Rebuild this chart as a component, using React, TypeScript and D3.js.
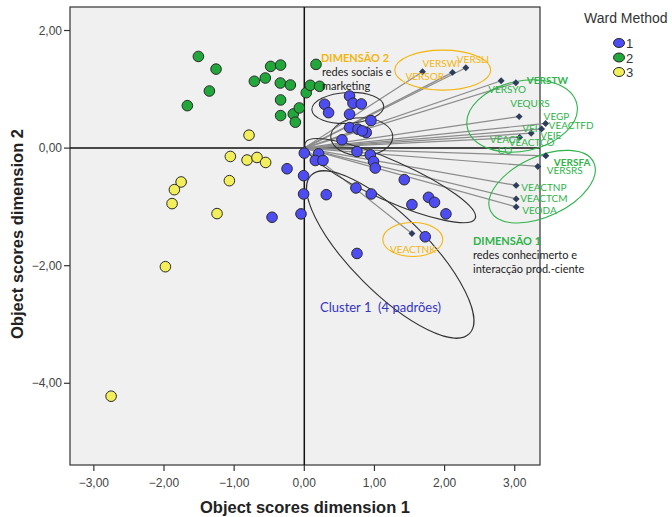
import React from 'react';
import * as d3 from 'd3';

// object scores per Ward cluster [dim1, dim2]
const cluster1: [number, number][] = [
  [0.645, 0.886], [0.289, 0.746], [0.694, 0.763], [0.812, 0.751], [0.346, 0.603],
  [0.645, 0.576], [0.95, 0.468], [0.645, 0.349], [0.765, 0.322], [0.883, 0.264],
  [0.826, 0.293], [0.537, 0.141], [0.0, -0.085], [0.204, -0.097], [0.751, -0.058],
  [0.94, -0.114], [0.157, -0.21], [0.266, -0.21], [0.987, -0.227], [1.011, -0.339],
  [-0.246, -0.351], [-0.01, -0.469], [1.425, -0.537], [0.736, -0.678], [-0.01, -0.78],
  [0.313, -0.792], [0.954, -0.78], [1.771, -0.837], [1.856, -0.922], [1.534, -0.961],
  [2.019, -1.119], [-0.047, -1.119], [-0.46, -1.176], [1.724, -1.508], [0.751, -1.792],
];
const cluster2: [number, number][] = [
  [-1.51, 1.559], [-1.258, 1.344], [-1.353, 0.971], [-1.667, 0.722], [-0.48, 1.39],
  [-0.338, 1.412], [-0.712, 1.136], [-0.556, 1.192], [-0.342, 1.107], [-0.199, 1.073],
  [-0.338, 0.819], [-0.338, 0.553], [-0.157, 0.581], [-0.071, 0.683], [-0.128, 0.441],
  [0.028, 0.942], [0.085, 1.068], [0.218, 1.051], [0.167, 1.424],
];
const cluster3: [number, number][] = [
  [-0.788, 0.22], [-1.054, -0.142], [-0.816, -0.203], [-0.674, -0.159], [-0.551, -0.244],
  [-1.756, -0.576], [-1.852, -0.707], [-1.068, -0.554], [-1.885, -0.944], [-1.244, -1.114],
  [-1.98, -2.017], [-2.754, -4.22],
];

// variable loadings (vectors)
const vectorNames = ['VERSOR', 'VERSWI', 'VERSLI', 'VERSYO', 'VERSTW', 'VEQURS', 'VEGP', 'VEACTFD',
  'VEIE', 'VEACTCO', 'VERSFA', 'VERSRS', 'VEACTNP', 'VEACTCM', 'VEODA', 'VEACTNK'];
const vectorX = [1.685, 2.113, 2.303, 2.806, 3.016, 3.063, 3.44, 3.383, 3.234, 3.07, 3.443, 3.329, 3.02, 3.02, 3.02, 1.534];
const vectorY = [1.298, 1.288, 1.366, 1.146, 1.112, 0.536, 0.42, 0.327, 0.254, 0.183, -0.131, -0.312, -0.634, -0.864, -1.0, -1.453];

const xTicks = [-3, -2, -1, 0, 1, 2, 3];
const yTicks = [2, 0, -2, -4];
const legendLabels = ['1', '2', '3'];

const ORANGE = '#f5b50c';
const GREEN = '#2fb34a';
const clusterColors = ['#4d4df2', '#22a83a', '#f2ee5c'];

// label placement next to each vector end (pixels)
const labels = [
  { v: 'VERSOR', text: 'VERSOR', dx: -17, dy: 8, c: ORANGE, b: false },
  { v: 'VERSWI', text: 'VERSWI', dx: -30, dy: -5, c: ORANGE, b: false },
  { v: 'VERSLI', text: 'VERSLI', dx: -9, dy: -5, c: ORANGE, b: false },
  { v: 'VERSYO', text: 'VERSYO', dx: -13, dy: 12, c: GREEN, b: false },
  { v: 'VERSTW', text: 'VERSTW', dx: 11, dy: 1, c: GREEN, b: true },
  { v: 'VEQURS', text: 'VEQURS', dx: -9, dy: -10, c: GREEN, b: false },
  { v: 'VEGP', text: 'VEGP', dx: -2, dy: -3, c: GREEN, b: false },
  { v: 'VEACTFD', text: 'VEACTFD', dx: 7, dy: 0, c: GREEN, b: false },
  { v: 'VEIE', text: 'VEI', dx: -9, dy: -1, c: GREEN, b: false },
  { v: 'VEIE', text: 'VEIE', dx: 9, dy: 6, c: GREEN, b: false },
  { v: 'VEACTCO', text: 'VEACT', dx: -30, dy: 6, c: GREEN, b: false },
  { v: 'VEACTCO', text: 'VEACTCO', dx: -11, dy: 9, c: GREEN, b: false },
  { v: 'VEACTCO', text: 'CO', dx: -22, dy: 17, c: GREEN, b: false },
  { v: 'VERSFA', text: 'VERSFA', dx: 8, dy: 10, c: GREEN, b: true },
  { v: 'VERSRS', text: 'VERSRS', dx: 9, dy: 8, c: GREEN, b: false },
  { v: 'VEACTNP', text: 'VEACTNP', dx: 5, dy: 6, c: GREEN, b: false },
  { v: 'VEACTCM', text: 'VEACTCM', dx: 4, dy: 3, c: GREEN, b: false },
  { v: 'VEODA', text: 'VEODA', dx: 6, dy: 7, c: GREEN, b: false },
  { v: 'VEACTNK', text: 'VEACTNK', dx: -22, dy: 19, c: ORANGE, b: false },
];

// hand drawn grouping ellipses: centre in data units, radii in px
const ellipses = [
  { x: 0.62, y: 0.683, rx: 36, ry: 15.5, rot: -3, c: '#333' },
  { x: 0.819, y: 0.192, rx: 31, ry: 19, rot: 0, c: '#333' },
  { x: 1.225, y: -0.554, rx: 93, ry: 20, rot: 24, c: '#333' },
  { x: 1.225, y: -1.81, rx: 112, ry: 38, rot: 45, c: '#333' },
  { x: 1.973, y: 1.327, rx: 48, ry: 20, rot: 0, c: ORANGE },
  { x: 1.546, y: -1.554, rx: 30, ry: 17, rot: 0, c: ORANGE },
  { x: 3.105, y: 0.547, rx: 56, ry: 35, rot: -12, c: GREEN },
  { x: 3.39, y: -0.656, rx: 57, ry: 30, rot: -25, c: GREEN },
];

const W = 672;
const H = 517;
const left = 70, right = 540, top = 7, bottom = 465;

export default function App() {
  const x = d3.scaleLinear().domain([-3.34, 3.36]).range([left, right]);
  const y = d3.scaleLinear().domain([2.4, -5.39]).range([top, bottom]);
  const diamond = d3.symbol(d3.symbolSquare, 24)();
  const sans = '"Liberation Sans", Arial, sans-serif';
  const cal = 'Lato, "Open Sans", sans-serif';

  const clusters = [cluster3, cluster2, cluster1];
  const clusterIdx = [2, 1, 0];

  return (
    <div style={{ position: 'absolute', left: 0, top: 0 }}>
      <svg width={W} height={H} style={{ display: 'block', background: '#fff' }}>
        <rect x={left} y={top} width={right - left} height={bottom - top} fill="#f0f0f0" stroke="#333" strokeWidth={1.2} />

        {/* axes ticks */}
        {yTicks.map((t) => (
          <g key={'y' + t}>
            <line x1={left - 6} x2={left} y1={y(t)} y2={y(t)} stroke="#333" strokeWidth={1.2} />
            <text x={left - 8} y={y(t) + 4} textAnchor="end" fontFamily={sans} fontSize={12} fill="#444">
              {d3.format('.2f')(t).replace('.', ',')}
            </text>
          </g>
        ))}
        {xTicks.map((t) => (
          <g key={'x' + t}>
            <line x1={x(t)} x2={x(t)} y1={bottom} y2={bottom + 6} stroke="#333" strokeWidth={1.2} />
            <text x={x(t)} y={bottom + 22} textAnchor="middle" fontFamily={sans} fontSize={12} fill="#444">
              {d3.format('.2f')(t).replace('.', ',')}
            </text>
          </g>
        ))}

        {/* reference lines */}
        <line x1={x(0)} x2={x(0)} y1={top} y2={bottom} stroke="#111" strokeWidth={1.5} />
        <line x1={left} x2={right} y1={y(0)} y2={y(0)} stroke="#111" strokeWidth={1.5} />

        {/* vectors */}
        {vectorNames.map((n, i) => (
          <line key={'l' + n} x1={x(0)} y1={y(0)} x2={x(vectorX[i])} y2={y(vectorY[i])} stroke="#8c8c8c" strokeWidth={1.2} />
        ))}

        {/* ellipses */}
        {ellipses.map((e, i) => (
          <ellipse key={'e' + i} cx={x(e.x)} cy={y(e.y)} rx={e.rx} ry={e.ry} fill="none" stroke={e.c} strokeWidth={1.1}
            transform={`rotate(${e.rot} ${x(e.x)} ${y(e.y)})`} />
        ))}

        {/* points */}
        {clusters.map((pts, k) => (
          <g key={'c' + k}>
            {pts.map((p, i) => (
              <circle key={i} cx={x(p[0])} cy={y(p[1])} r={5.3} fill={clusterColors[clusterIdx[k]]} stroke="#2a2a2a" strokeWidth={1} />
            ))}
          </g>
        ))}

        {vectorNames.map((n, i) => (
          <path key={'d' + n} d={diamond ?? ''} fill="#2e3d5c"
            transform={`translate(${x(vectorX[i])},${y(vectorY[i])}) rotate(45)`} />
        ))}

        {labels.map((l, i) => {
          const vi = vectorNames.indexOf(l.v);
          return (
            <text key={'t' + i} x={x(vectorX[vi]) + l.dx} y={y(vectorY[vi]) + l.dy} fontFamily={cal} fontSize={10}
              fontWeight={l.b ? 'bold' : 'normal'} fill={l.c}>{l.text}</text>
          );
        })}

        {/* annotations */}
        <text x={321} y={62} fontFamily={cal} fontSize={11} fontWeight="bold" fill={ORANGE}>DIMENSÃO 2</text>
        <text x={322} y={76} fontFamily={cal} fontSize={11} fill="#222">redes sociais e</text>
        <text x={322} y={90} fontFamily={cal} fontSize={11} fill="#222">marketing</text>
        <text x={473} y={245} fontFamily={cal} fontSize={11} fontWeight="bold" fill={GREEN}>DIMENSÃO 1</text>
        <text x={473} y={259} fontFamily={cal} fontSize={11} fill="#222">redes conhecimerto e</text>
        <text x={473} y={273} fontFamily={cal} fontSize={11} fill="#222">interacção prod.-ciente</text>
        <text x={320} y={312} fontFamily={cal} fontSize={13} fill="#3434c4" xmlSpace="preserve">Cluster 1  (4 padrões)</text>

        {/* axis titles */}
        <text x={305} y={513} textAnchor="middle" fontFamily={sans} fontSize={16.5} fontWeight="bold" fill="#222">
          Object scores dimension 1
        </text>
        <text transform={`translate(23,${234}) rotate(-90)`} textAnchor="middle" fontFamily={sans} fontSize={16.5} fontWeight="bold" fill="#222">
          Object scores dimension 2
        </text>

        {/* legend */}
        <text x={584} y={23} fontFamily={sans} fontSize={14} fill="#333">Ward Method</text>
        {legendLabels.map((l, i) => (
          <g key={'lg' + l}>
            <ellipse cx={619} cy={43 + i * 14.5} rx={5.5} ry={4.5} fill={clusterColors[i]} stroke="#2a2a2a" strokeWidth={1} />
            <text x={626} y={48 + i * 14.5} fontFamily={sans} fontSize={13} fill="#333">{l}</text>
          </g>
        ))}
      </svg>
    </div>
  );
}
